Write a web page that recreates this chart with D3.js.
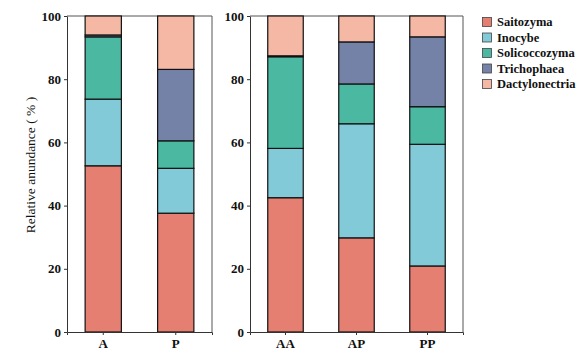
<!DOCTYPE html>
<html><head><meta charset="utf-8">
<script src="https://cdn.jsdelivr.net/npm/d3@7"></script>
<style>body{margin:0;background:#fff}svg{display:block}</style>
</head><body>
<svg id="c" width="583" height="359"></svg>
<script>
const genera = ["Saitozyma","Inocybe","Solicoccozyma","Trichophaea","Dactylonectria"];
const colors = ["#E47F72","#82CAD8","#4BB8A2","#7382A6","#F4B8A5"];
const groups1 = ["A","P"];
const groups2 = ["AA","AP","PP"];
// relative abundance (%) per genus, per group
const saitozyma     = {A:52.6, P:37.6, AA:42.5, AP:29.8, PP:20.9};
const inocybe       = {A:21.1, P:14.2, AA:15.6, AP:36.1, PP:38.5};
const solicoccozyma = {A:19.7, P:8.7,  AA:29.0, AP:12.6, PP:11.9};
const trichophaea   = {A:0.6,  P:22.6, AA:0.3,  AP:13.3, PP:22.1};
const dactylonectria= {A:6.0,  P:16.9, AA:12.6, AP:8.2,  PP:6.6};
const yTicks = [0,20,40,60,80,100];

const series = [saitozyma,inocybe,solicoccozyma,trichophaea,dactylonectria];
const svg = d3.select("#c");
const plotTop = 16, plotBottom = 332;
const y = d3.scaleLinear().domain([0,100]).range([plotBottom, plotTop]);
const font = "'Liberation Serif','Times New Roman',serif";

function panel(groups, x0, x1){
  const x = d3.scaleBand().domain(groups).range([x0,x1]).paddingInner(0.5).paddingOuter(0.25);
  const g = svg.append("g");
  const rows = groups.map(k => { const o={group:k}; genera.forEach((n,i)=>o[n]=series[i][k]); return o; });
  const stack = d3.stack().keys(genera)(rows);
  g.append("path").attr("d",`M${x0},${plotTop}H${x1}V${plotBottom}`).attr("fill","none").attr("stroke","#555").attr("stroke-width",1);
  stack.forEach((layer,i)=>{
    g.selectAll(null).data(layer).join("rect")
      .attr("x",d=>x(d.data.group)).attr("width",x.bandwidth())
      .attr("y",d=>y(d[1])).attr("height",d=>y(d[0])-y(d[1]))
      .attr("fill",colors[i]).attr("stroke","#111").attr("stroke-width",1.2);
  });
  const ya = g.append("g").attr("transform",`translate(${x0},0)`)
    .call(d3.axisLeft(y).tickValues(yTicks).tickSize(3).tickSizeOuter(0).tickPadding(3));
  const xa = g.append("g").attr("transform",`translate(0,${plotBottom})`)
    .call(d3.axisBottom(x).tickSize(3).tickSizeOuter(3).tickPadding(4));
  [ya,xa].forEach(a=>{
    a.selectAll("path,line").attr("stroke","#333");
    a.selectAll("text").attr("font-family",font).attr("font-weight","bold").attr("font-size","13px").attr("fill","#111");
  });
}
panel(groups1, 67, 212);
panel(groups2, 250, 463);

svg.append("text").attr("transform","translate(35,165) rotate(-90)")
  .attr("text-anchor","middle").attr("font-family",font).attr("font-size","13.5px").attr("fill","#111")
  .text("Relative anundance ( % )");

const leg = svg.append("g");
genera.forEach((n,i)=>{
  const yy = 22 + i*15.5;
  leg.append("rect").attr("x",482.5).attr("y",yy-4.5).attr("width",9).attr("height",9)
    .attr("fill",colors[i]).attr("stroke","#444").attr("stroke-width",0.8);
  leg.append("text").attr("x",497).attr("y",yy).attr("dy","0.35em")
    .attr("font-family",font).attr("font-weight","bold").attr("font-size","12.5px").attr("fill","#111").text(n);
});
</script>
</body></html>
